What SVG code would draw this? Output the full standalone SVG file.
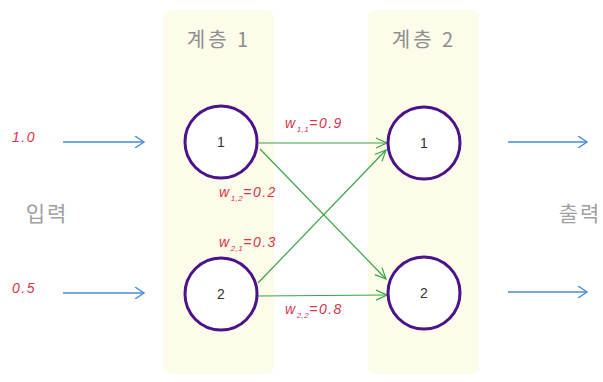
<svg xmlns="http://www.w3.org/2000/svg" width="603" height="382" viewBox="0 0 603 382">
<style>
.panel{fill:#fdfbe9;}
.title{font-family:"Noto Sans CJK KR","Liberation Sans",sans-serif;font-size:20px;fill:#8e8e8e;text-anchor:middle;letter-spacing:3px;}
.side{font-family:"Noto Sans CJK KR",sans-serif;font-size:21px;fill:#a0a0a0;text-anchor:middle;letter-spacing:2px;}
.node{fill:#ffffff;stroke:#4a138a;stroke-width:3;}
.num{font-family:"Liberation Sans",sans-serif;font-size:14px;fill:#333;text-anchor:middle;}
.val{font-family:"Liberation Sans",sans-serif;font-style:italic;font-size:14px;fill:#d7344c;letter-spacing:1.5px;}
.sub{font-size:8px;letter-spacing:0.5px;}
.blue{stroke:#4a8cd4;stroke-width:1.4;fill:none;marker-end:url(#ab);}
.green{stroke:#3aa447;stroke-width:1.2;fill:none;marker-end:url(#ag);}
</style>
<defs>
<marker id="ab" markerWidth="12" markerHeight="12" refX="10" refY="6" orient="auto" markerUnits="userSpaceOnUse">
<path d="M1,0 L10,6 L1,12" fill="none" stroke="#4a8cd4" stroke-width="1.4"/>
</marker>
<marker id="ag" markerWidth="14" markerHeight="12" refX="12" refY="6" orient="auto" markerUnits="userSpaceOnUse">
<path d="M1,1 L12,6 L1,11" fill="none" stroke="#3aa447" stroke-width="1.2"/>
</marker>
</defs>
<g id="layer1">
<rect class="panel" x="163" y="10" width="111" height="364" rx="8"/>
<text class="title" x="219" y="47">계층 1</text>
</g>
<g id="layer2">
<rect class="panel" x="368" y="10" width="111" height="364" rx="8"/>
<text class="title" x="424" y="47">계층 2</text>
</g>
<g id="labels">
<text class="side" x="47" y="221">입력</text>
<text class="side" x="580" y="221">출력</text>
<text class="val" x="12" y="142">1.0</text>
<text class="val" x="12" y="293">0.5</text>
</g>
<g id="connectors">
<line class="blue" x1="63" y1="142" x2="144" y2="142"/>
<line class="blue" x1="63" y1="293" x2="144" y2="293"/>
<line class="blue" x1="508" y1="142" x2="587" y2="142"/>
<line class="blue" x1="508" y1="292" x2="587" y2="292"/>
<line class="green" x1="259" y1="143" x2="387" y2="143"/>
<line class="green" x1="260" y1="149" x2="386" y2="279"/>
<line class="green" x1="258" y1="283" x2="386" y2="150"/>
<line class="green" x1="258" y1="296" x2="387" y2="295"/>
<text class="val" x="285" y="128">w<tspan class="sub" dy="4">1,1</tspan><tspan dy="-4">=0.9</tspan></text>
<text class="val" x="219" y="197">w<tspan class="sub" dy="4">1,2</tspan><tspan dy="-4">=0.2</tspan></text>
<text class="val" x="219" y="247">w<tspan class="sub" dy="4">2,1</tspan><tspan dy="-4">=0.3</tspan></text>
<text class="val" x="285" y="314">w<tspan class="sub" dy="4">2,2</tspan><tspan dy="-4">=0.8</tspan></text>
</g>
<g id="n11">
<circle class="node" cx="221" cy="142" r="36"/>
<text class="num" x="221" y="147">1</text>
</g>
<g id="n12">
<circle class="node" cx="221" cy="294" r="36"/>
<text class="num" x="221" y="299">2</text>
</g>
<g id="n21">
<circle class="node" cx="424" cy="143" r="36"/>
<text class="num" x="424" y="148">1</text>
</g>
<g id="n22">
<circle class="node" cx="424" cy="293" r="36"/>
<text class="num" x="424" y="298">2</text>
</g>
</svg>
